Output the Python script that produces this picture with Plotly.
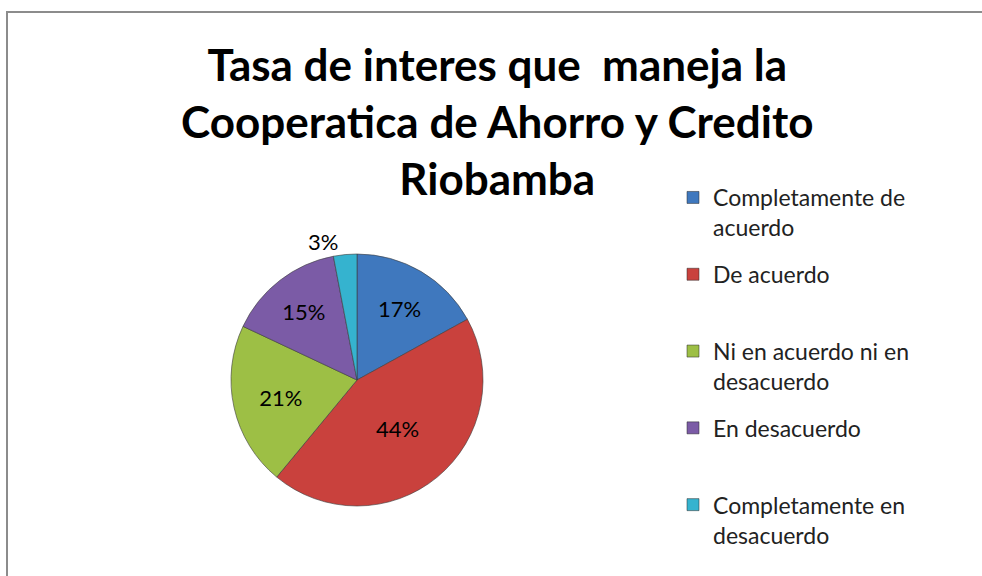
import plotly.graph_objects as go

labels = ["Completamente de<br>acuerdo", "De acuerdo<br> ", "Ni en acuerdo ni en<br>desacuerdo",
          "En desacuerdo<br> ", "Completamente en<br>desacuerdo"]
values = [17, 44, 21, 15, 3]
colors = ["#3F78BE", "#C9413D", "#9DBF45", "#7B5BA6", "#35B3CF"]
text_pos = ["inside", "inside", "inside", "inside", "outside"]
title = "Tasa de interes que  maneja la<br>Cooperatica de Ahorro y Credito<br>Riobamba"

W, H = 982, 576
cx, cy, r = 357, 380, 126

fig = go.Figure()
fig.add_trace(go.Pie(
    labels=labels, values=values, sort=False, direction="clockwise", rotation=0,
    marker=dict(colors=colors, line=dict(color="rgba(60,60,60,0.6)", width=1)),
    textinfo="percent", textposition=text_pos, insidetextorientation="horizontal",
    textfont=dict(size=22, color="black", family="Lato, sans-serif"),
    domain=dict(x=[(cx - r) / W, (cx + r) / W], y=[1 - (cy + r) / H, 1 - (cy - r) / H]),
    showlegend=False,
))
# legend entries (one group per category so the spacing can match)
for lab, col in zip(labels, colors):
    fig.add_trace(go.Scatter(x=[None], y=[None], mode="markers", name=lab, legendgroup=lab,
                             marker=dict(symbol="square", size=12, color=col,
                                         line=dict(color="rgba(40,40,40,0.5)", width=1)),
                             showlegend=True))

fig.update_layout(
    width=W, height=H, margin=dict(l=0, r=0, t=0, b=0),
    paper_bgcolor="white", plot_bgcolor="white",
    xaxis=dict(visible=False), yaxis=dict(visible=False),
    annotations=[dict(text="<b>" + title + "</b>", x=0.506, xref="paper", y=1 - 36 / H, yref="paper",
                      xanchor="center", yanchor="top", showarrow=False, align="center",
                      font=dict(size=44, color="black", family="Lato, sans-serif"))],
    legend=dict(x=673 / W, y=1 - 176 / H, xanchor="left", yanchor="top",
                font=dict(size=23, color="#222", family="Lato, sans-serif"),
                tracegroupgap=14, itemwidth=30, traceorder="grouped", valign="top"),
    showlegend=True,
    shapes=[dict(type="rect", xref="paper", yref="paper", x0=7 / W, x1=1.05, y0=-0.05, y1=1 - 12 / H,
                 line=dict(color="#8c8c8c", width=2))],
)

fig.write_html("out.html", config={"displayModeBar": False},
               post_script="document.body.style.margin='0';")
